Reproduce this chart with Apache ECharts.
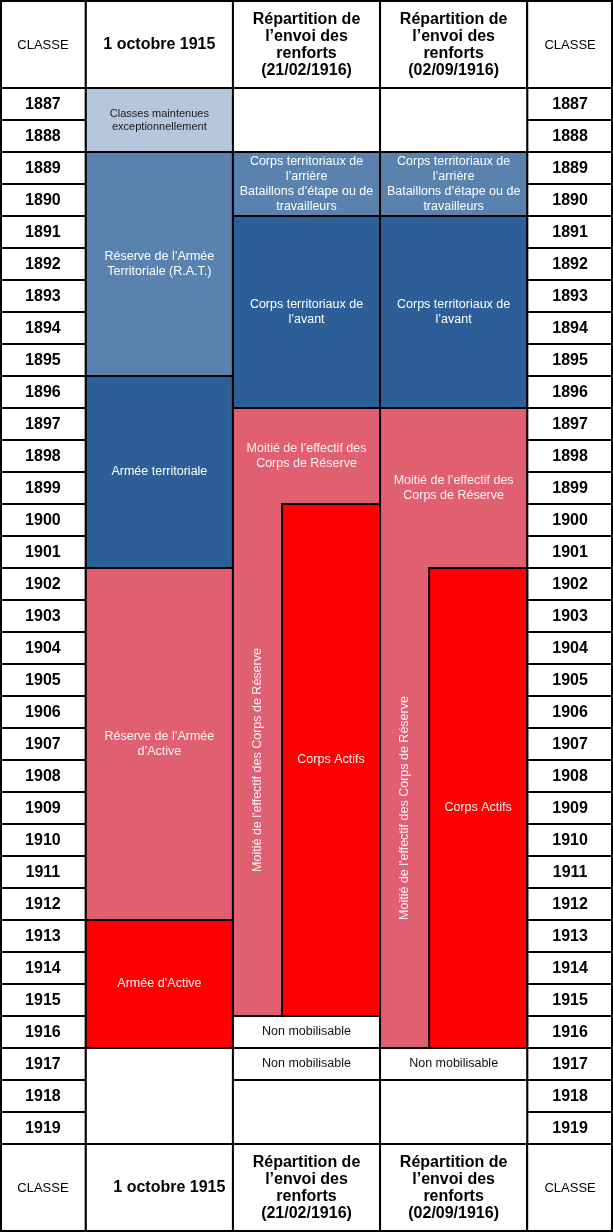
<!DOCTYPE html>
<html>
<head>
<meta charset="utf-8">
<script src="https://cdn.jsdelivr.net/npm/echarts@6/dist/echarts.min.js"></script>
<style>
html, body { margin: 0; padding: 0; background: #fff; }
#chart { width: 613px; height: 1232px; }
</style>
</head>
<body>
<div id="chart"></div>
<script>
// classes (années de naissance), une ligne par classe
const years = ['1887', '1888', '1889', '1890', '1891', '1892', '1893', '1894', '1895', '1896', '1897',
  '1898', '1899', '1900', '1901', '1902', '1903', '1904', '1905', '1906', '1907', '1908', '1909',
  '1910', '1911', '1912', '1913', '1914', '1915', '1916', '1917', '1918', '1919'];

const headers = ['CLASSE', '1 octobre 1915', 'Répartition de\nl’envoi des\nrenforts\n(21/02/1916)',
  'Répartition de\nl’envoi des\nrenforts\n(02/09/1916)', 'CLASSE'];

// situation au 1er octobre 1915
const octobre1915 = [
  { from: 1887, to: 1888, kind: 'maintenues', text: 'Classes maintenues\nexceptionnellement' },
  { from: 1889, to: 1895, kind: 'rat', text: 'Réserve de l’Armée\nTerritoriale (R.A.T.)' },
  { from: 1896, to: 1901, kind: 'territoriale', text: 'Armée territoriale' },
  { from: 1902, to: 1912, kind: 'reserve', text: 'Réserve de l’Armée\nd’Active' },
  { from: 1913, to: 1916, kind: 'active', text: 'Armée d’Active' },
  { from: 1917, to: 1919, kind: 'vide', text: '' }
];

// répartition des renforts au 21/02/1916
const renforts21fev = [
  { from: 1887, to: 1888, kind: 'vide', text: '' },
  { from: 1889, to: 1890, kind: 'rat', text: 'Corps territoriaux de\nl’arrière\nBataillons d’étape ou de\ntravailleurs' },
  { from: 1891, to: 1896, kind: 'territoriale', text: 'Corps territoriaux de\nl’avant' },
  { from: 1897, to: 1915, kind: 'reserve', text: '' },
  { from: 1900, to: 1915, kind: 'active', part: 'right', text: 'Corps Actifs' },
  { from: 1916, to: 1916, kind: 'vide', text: 'Non mobilisable' },
  { from: 1917, to: 1917, kind: 'vide', text: 'Non mobilisable' },
  { from: 1918, to: 1919, kind: 'vide', text: '' }
];

// répartition des renforts au 02/09/1916
const renforts2sep = [
  { from: 1887, to: 1888, kind: 'vide', text: '' },
  { from: 1889, to: 1890, kind: 'rat', text: 'Corps territoriaux de\nl’arrière\nBataillons d’étape ou de\ntravailleurs' },
  { from: 1891, to: 1896, kind: 'territoriale', text: 'Corps territoriaux de\nl’avant' },
  { from: 1897, to: 1916, kind: 'reserve', text: '' },
  { from: 1902, to: 1916, kind: 'active', part: 'right', text: 'Corps Actifs' },
  { from: 1917, to: 1917, kind: 'vide', text: 'Non mobilisable' },
  { from: 1918, to: 1919, kind: 'vide', text: '' }
];

// textes de la moitié des corps de réserve (partie haute + bande verticale)
const notesReserve = [
  { col: 2, from: 1897, to: 1899, part: 'full', text: 'Moitié de l’effectif des\nCorps de Réserve' },
  { col: 2, from: 1900, to: 1915, part: 'left', vertical: true, text: "Moitié de l'effectif des Corps de Réserve" },
  { col: 3, from: 1897, to: 1901, part: 'full', text: 'Moitié de l’effectif des\nCorps de Réserve' },
  { col: 3, from: 1902, to: 1916, part: 'left', vertical: true, text: "Moitié de l'effectif des Corps de Réserve" }
];

// mise en page (unités de l'axe x)
const colStart = [0, 1.75, 4.75, 7.75, 10.75];
const colWidth = [1.75, 3, 3, 3, 1.75];
const parts = { full: [0, 3], left: [0, 1], right: [1, 3] };
const colours = {
  vide: '#ffffff', maintenues: '#b5c7dd', rat: '#5a82ae',
  territoriale: '#2c5e97', reserve: '#e06072', active: '#ff0000'
};
const textColours = { vide: '#111', maintenues: '#1a1a1a' };
const FONT = '"Liberation Sans", Arial, sans-serif';

const blocks = []
  .concat(octobre1915.map(b => Object.assign({ col: 1 }, b)))
  .concat(renforts21fev.map(b => Object.assign({ col: 2 }, b)))
  .concat(renforts2sep.map(b => Object.assign({ col: 3 }, b)));

const yearCells = [];
years.forEach((y, i) => { yearCells.push({ col: 0, idx: i }); yearCells.push({ col: 4, idx: i }); });

function xRange(api, col, part) {
  const p = parts[part || 'full'];
  const w = colWidth[col] / 3;
  return [api.coord([colStart[col] + p[0] * w, 0])[0], api.coord([colStart[col] + p[1] * w, 0])[0]];
}
function yRange(api, from, to) {
  const band = api.size([0, 1])[1];
  return [
    api.coord([0, years.indexOf(String(from))])[1] - band / 2,
    api.coord([0, years.indexOf(String(to))])[1] + band / 2
  ];
}
function cellRect(x0, x1, y0, y1, fill) {
  return { type: 'rect', shape: { x: x0, y: y0, width: x1 - x0, height: y1 - y0 },
    style: { fill: fill, stroke: '#000', lineWidth: 2 } };
}
function label(x, y, text, opts) {
  return { type: 'text', x: x, y: y, rotation: opts.rotation || 0, z2: 10,
    style: { text: text, fill: opts.fill || '#fff', fontFamily: FONT, fontSize: opts.size || 12.5,
      fontWeight: opts.weight || 'normal', lineHeight: opts.lineHeight || 15,
      align: 'center', verticalAlign: 'middle' } };
}

function renderBlock(params, api) {
  const b = blocks[params.dataIndex];
  const xr = xRange(api, b.col, b.part);
  const yr = yRange(api, b.from, b.to);
  const children = [cellRect(xr[0], xr[1], yr[0], yr[1], colours[b.kind])];
  if (b.text) {
    const small = b.kind === 'maintenues';
    children.push(label((xr[0] + xr[1]) / 2, (yr[0] + yr[1]) / 2, b.text, {
      fill: textColours[b.kind] || (b.kind === 'reserve' || b.kind === 'active' ? '#fff2f6' : '#fff'),
      size: small ? 11 : 12.5, lineHeight: small ? 13 : 15 }));
  }
  return { type: 'group', children: children };
}

function renderNote(params, api) {
  const n = notesReserve[params.dataIndex];
  const xr = xRange(api, n.col, n.part);
  const yr = yRange(api, n.from, n.to);
  return label((xr[0] + xr[1]) / 2, (yr[0] + yr[1]) / 2, n.text,
    { fill: '#fff2f6', rotation: n.vertical ? Math.PI / 2 : 0 });
}

function renderYear(params, api) {
  const c = yearCells[params.dataIndex];
  const xr = xRange(api, c.col);
  const yr = yRange(api, years[c.idx], years[c.idx]);
  return { type: 'group', children: [
    cellRect(xr[0], xr[1], yr[0], yr[1], '#fff'),
    label((xr[0] + xr[1]) / 2, (yr[0] + yr[1]) / 2 + 0.5, years[c.idx],
      { fill: '#000', size: 16, weight: 'bold' })
  ] };
}

function renderHeader(params, api) {
  const i = params.dataIndex;
  const cs = params.coordSys;
  const xr = xRange(api, i);
  const top = cs.y;
  const bottom = cs.y + cs.height;
  const h = top;
  const isClasse = headers[i] === 'CLASSE';
  const opts = isClasse ? { fill: '#000', size: 13 }
    : { fill: '#000', size: 16, weight: 'bold', lineHeight: 17 };
  const cx = (xr[0] + xr[1]) / 2;
  return { type: 'group', children: [
    cellRect(xr[0], xr[1], 0, top, '#fff'),
    cellRect(xr[0], xr[1], bottom, bottom + h, '#fff'),
    label(cx, top / 2 + 1, headers[i], opts),
    label(cx + (i === 1 ? 10 : 0), bottom + h / 2, headers[i], opts)
  ] };
}

// cadre extérieur du tableau
function renderFrame(params, api) {
  const cs = params.coordSys;
  const h = cs.y;
  return { type: 'rect', z2: 20,
    shape: { x: cs.x + 1, y: 1, width: cs.width - 2, height: cs.height + 2 * h - 2 },
    style: { fill: 'none', stroke: '#000', lineWidth: 2 } };
}

const chart = echarts.init(document.getElementById('chart'));
chart.setOption({
  animation: false,
  grid: { left: 0, right: 0, top: 88, bottom: 88 },
  xAxis: { type: 'value', min: 0, max: 12.5, show: false },
  yAxis: { type: 'category', data: years, inverse: true, show: false },
  series: [
    { type: 'custom', renderItem: renderHeader, data: headers.map((h, i) => [i, 0]) },
    { type: 'custom', renderItem: renderYear, data: yearCells.map(c => [c.col, c.idx]) },
    { type: 'custom', renderItem: renderBlock,
      data: blocks.map(b => [b.col, years.indexOf(String(b.from)), years.indexOf(String(b.to))]) },
    { type: 'custom', renderItem: renderNote, z: 5,
      data: notesReserve.map(n => [n.col, years.indexOf(String(n.from))]) },
    { type: 'custom', renderItem: renderFrame, z: 6, data: [[0, 0]] }
  ]
});
</script>
</body>
</html>
